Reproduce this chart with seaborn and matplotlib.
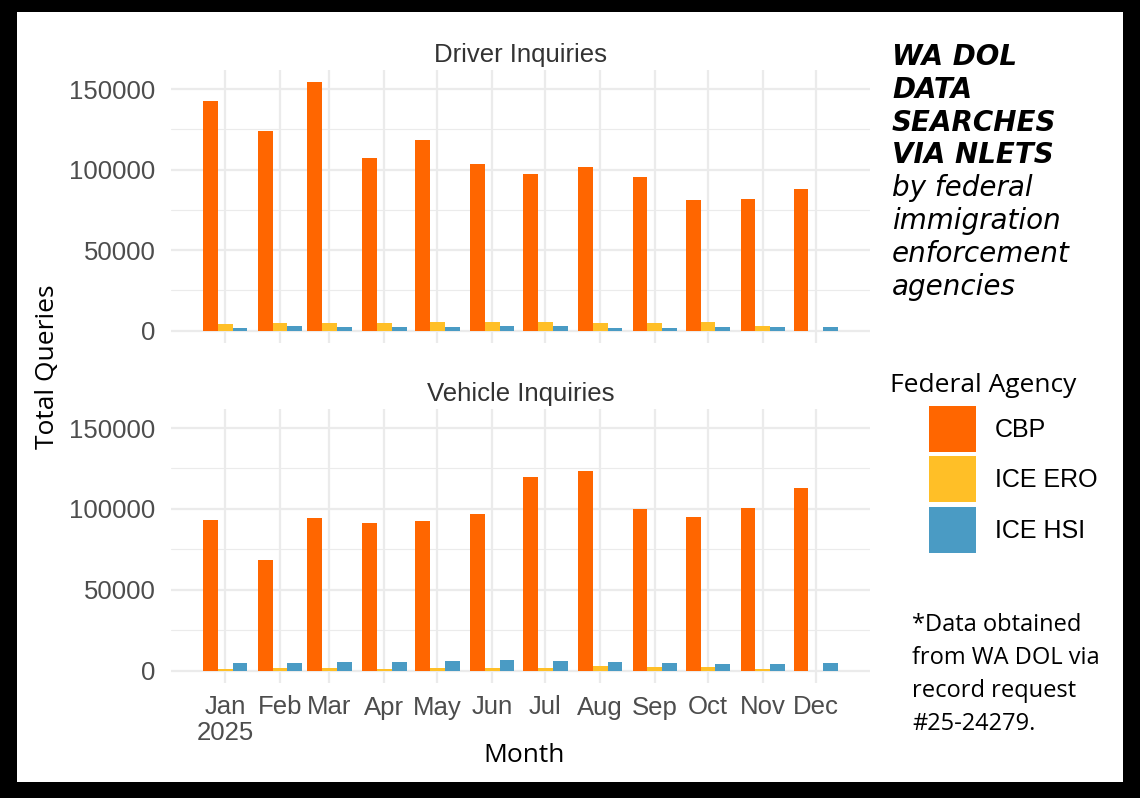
import pandas as pd
import numpy as np
import matplotlib
matplotlib.use("Agg")
import matplotlib.pyplot as plt
import matplotlib.dates as mdates
from matplotlib.patches import Rectangle
from matplotlib.ticker import MultipleLocator
import seaborn as sns

months = pd.date_range("2025-01-01", periods=12, freq="MS")
month_labels = ["Jan\n2025", "Feb", "Mar", "Apr", "May", "Jun",
                "Jul", "Aug", "Sep", "Oct", "Nov", "Dec"]
agencies = ["CBP", "ICE ERO", "ICE HSI"]
colors = ["#FF6600", "#FFBF27", "#4A9BC4"]

driver_cbp = [142300, 123700, 154100, 107300, 118300, 103600,
              97200, 101500, 95100, 81000, 82000, 88000]
driver_ero = [4100, 4800, 4800, 4800, 5600, 5400,
              5600, 4800, 4800, 5200, 3100, 0]
driver_hsi = [1700, 2900, 2500, 2500, 2500, 2900,
              2900, 1700, 1700, 2100, 2100, 2100]

vehicle_cbp = [93200, 68500, 94600, 91500, 92800, 96700,
               119900, 123500, 99800, 95000, 100600, 112700]
vehicle_ero = [800, 1500, 1500, 1000, 1500, 1500,
               1500, 2700, 2100, 2300, 800, 0]
vehicle_hsi = [4600, 4600, 5400, 5000, 5800, 6800,
               5800, 5400, 4600, 4200, 3900, 4600]


def long_frame(cbp, ero, hsi):
    x = mdates.date2num(months)
    parts = []
    for name, vals in zip(agencies, [cbp, ero, hsi]):
        parts.append(pd.DataFrame({"x": x, "value": vals, "agency": name}))
    return pd.concat(parts, ignore_index=True)


df_driver = long_frame(driver_cbp, driver_ero, driver_hsi)
df_vehicle = long_frame(vehicle_cbp, vehicle_ero, vehicle_hsi)

sns.set_theme(style="white")
plt.rcParams["font.family"] = ["Liberation Sans", "DejaVu Sans"]
plt.rcParams["text.color"] = "black"

fig = plt.figure(figsize=(11.4, 7.98), dpi=100, facecolor="black")
fig.patches.append(Rectangle((17 / 1140, 16 / 798), 1106 / 1140, 770 / 798,
                             transform=fig.transFigure, facecolor="white",
                             edgecolor="none", zorder=-5))

ax_top = fig.add_axes([171 / 1140, (798 - 343) / 798, 699 / 1140, 273 / 798])
ax_bot = fig.add_axes([171 / 1140, (798 - 683) / 798, 699 / 1140, 274 / 798])

xnum = mdates.date2num(months)
ymax = max(max(driver_cbp), max(vehicle_cbp))

for ax, df, title in [(ax_top, df_driver, "Driver Inquiries"),
                      (ax_bot, df_vehicle, "Vehicle Inquiries")]:
    sns.barplot(data=df, x="x", y="value", hue="agency", hue_order=agencies,
                palette=colors, native_scale=True, width=0.9, saturation=1,
                errorbar=None, linewidth=0, ax=ax, legend=(ax is ax_top))
    ax.set_xlim(xnum[0] - 30.6, xnum[-1] + 30.6)
    ax.set_ylim(-0.05 * ymax, 1.05 * ymax)
    ax.patch.set_alpha(0)
    for s in ax.spines.values():
        s.set_visible(False)
    ax.yaxis.set_minor_locator(MultipleLocator(25000))
    ax.set_xticks(xnum)
    ax.set_yticks([0, 50000, 100000, 150000])
    ax.set_yticklabels(["0", "50000", "100000", "150000"])
    ax.grid(which="major", color="#EBEBEB", linewidth=1.6)
    ax.grid(which="minor", axis="y", color="#EBEBEB", linewidth=0.8)
    ax.set_axisbelow(True)
    ax.tick_params(axis="both", which="both", length=0, labelsize=18.5,
                   labelcolor="#4D4D4D")
    ax.tick_params(axis="y", pad=11)
    ax.set_xlabel("")
    ax.set_ylabel("")
    ax.set_title(title, fontsize=18.5, color="#333333", pad=6)

ax_top.set_xticklabels([])
ax_bot.set_xticklabels(month_labels, linespacing=1.1)
ax_bot.tick_params(axis="x", pad=9)

handles, labels = ax_top.get_legend_handles_labels()
ax_top.get_legend().remove()

label_font = ["Open Sans", "DejaVu Sans"]
title_font = ["DejaVu Sans"]
fig.text(47 / 1140, 1 - 367 / 798, "Total Queries", rotation=90,
         ha="center", va="center", fontsize=19, family=label_font)
fig.text(524 / 1140, 1 - 755 / 798, "Month", ha="center", va="center",
         fontsize=19, family=label_font)

title_lines = ["WA DOL", "DATA", "SEARCHES", "VIA NLETS"]
sub_lines = ["by federal", "immigration", "enforcement", "agencies"]
for i, line in enumerate(title_lines + sub_lines):
    fig.text(892 / 1140, 1 - (57 + 32.8 * i) / 798, line, ha="left",
             va="center", fontsize=20, style="italic",
             weight="bold" if i < 4 else "normal", family=title_font)

fig.text(890 / 1140, 1 - 386 / 798, "Federal Agency", ha="left",
         va="center", fontsize=19, family=label_font)
leg = fig.legend(handles, labels, loc="upper left",
                 bbox_to_anchor=(929 / 1140, 1 - 406 / 798),
                 frameon=False, fontsize=18, borderpad=0,
                 handlelength=1.88, handleheight=2.45, labelspacing=0.18,
                 handletextpad=0.76, borderaxespad=0)

note_lines = ["*Data obtained", "from WA DOL via", "record request", "#25-24279."]
for i, line in enumerate(note_lines):
    fig.text(912 / 1140, 1 - (625 + 33 * i) / 798, line, ha="left",
             va="center", fontsize=17, family=label_font)

fig.savefig("out.png", dpi=100, facecolor="black")
